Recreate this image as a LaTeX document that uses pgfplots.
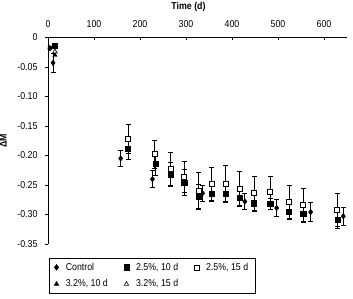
\documentclass[border=0pt]{standalone}
\usepackage{pgfplots}
\pgfplotsset{compat=1.18}
\usepackage{fontspec}
\setmainfont{Liberation Sans}[FakeStretch=0.88]
\begin{document}
\pgfplotstableread{
x y e
4 -0.018 0.003
11 -0.043 0.016
158 -0.205 0.013
227 -0.240 0.014
336 -0.264 0.014
428 -0.278 0.014
497 -0.289 0.015
571 -0.296 0.016
642 -0.303 0.015
}\control
\pgfplotstableread{
x y e
15 -0.014 0.004
174 -0.188 0.018
234 -0.214 0.020
267 -0.232 0.020
296 -0.246 0.022
327 -0.269 0.020
356 -0.265 0.013
386 -0.265 0.013
417 -0.272 0.015
448 -0.281 0.014
483 -0.282 0.010
524 -0.295 0.013
555 -0.299 0.014
629 -0.309 0.014
}\fullten
\pgfplotstableread{
x y e
174 -0.172 0.025
232 -0.198 0.024
267 -0.223 0.028
296 -0.236 0.026
327 -0.260 0.032
356 -0.248 0.028
386 -0.248 0.031
417 -0.256 0.029
448 -0.264 0.029
483 -0.261 0.026
524 -0.279 0.028
555 -0.284 0.028
629 -0.292 0.028
}\openfifteen
\pgfplotstableread{
x y
15 -0.030
174 -0.172
232 -0.198
267 -0.223
296 -0.236
327 -0.260
356 -0.248
386 -0.248
417 -0.256
448 -0.264
483 -0.261
524 -0.279
555 -0.284
629 -0.292
}\triten
\pgfplotstableread{
x y
15 -0.024
174 -0.172
232 -0.198
267 -0.223
296 -0.236
327 -0.260
356 -0.248
386 -0.248
417 -0.256
448 -0.264
483 -0.261
524 -0.279
555 -0.284
629 -0.292
}\trififteen
\begin{tikzpicture}
\path[use as bounding box] (-48pt,37.5pt) rectangle (305pt,-261.5pt);
\begin{axis}[
  at={(0,0)}, anchor=north west,
  scale only axis, width=299pt, height=206.5pt,
  xmin=0, xmax=650, ymin=-0.35, ymax=0,
  axis x line=top, axis y line=left,
  axis line style={-, line width=0.8pt},
  tick style={black, line width=0.8pt},
  tick align=outside,
  major tick length=3pt,
  major x tick style={yshift=-3pt},
  xtick={0,100,200,300,400,500,600},
  xticklabels={0,100,200,300,400,500,600},
  ytick={0,-0.05,-0.1,-0.15,-0.2,-0.25,-0.3,-0.35},
  yticklabels={0,-0.05,-0.10,-0.15,-0.20,-0.25,-0.30,-0.35},
  ticklabel style={font=\fontsize{10}{12}\selectfont},
  xticklabel style={yshift=3pt},
  yticklabel style={xshift=-4pt},
  xlabel={\textbf{Time (d)}},
  xlabel style={font=\fontsize{10}{12}\selectfont, at={(axis description cs:0.47,1)}, anchor=south, yshift=22pt},
  ylabel={\textbf{ΔM}},
  ylabel style={font=\fontsize{10}{12}\selectfont, yshift=4pt},
  legend columns=3,
  legend cell align=left,
  legend style={at={(axis description cs:0,0)}, anchor=north west, xshift=1pt, yshift=-13.7pt,
    draw=black, line width=0.6pt, font=\fontsize{10}{12}\selectfont,
    inner xsep=5pt, inner ysep=3pt, row sep=4pt,
    /tikz/every odd column/.append style={column sep=5pt},
    /tikz/every even column/.append style={column sep=14pt}},
  error bars/error bar style={line width=0.8pt, black},
  error bars/error mark options={rotate=90, mark size=2.5pt, line width=0.8pt, black},
]
\addplot[forget plot, only marks, mark=triangle*, mark size=2.6pt, black] table[x=x,y=y] {\triten};
\addplot[forget plot, only marks, mark=triangle*, mark size=2.6pt, black, mark options={fill=white, line width=0.6pt}] table[x=x,y=y] {\trififteen};
\addplot[only marks, mark=diamond*, mark size=2.8pt, black,
  error bars/.cd, y dir=both, y explicit] table[x=x,y=y,y error=e] {\control};
\addlegendentry{Control}
\addplot[only marks, mark=square*, mark size=2.6pt, black,
  error bars/.cd, y dir=both, y explicit] table[x=x,y=y,y error=e] {\fullten};
\addlegendentry{2.5\%, 10 d}
\addplot[only marks, mark=square*, mark size=2.5pt, black, mark options={fill=white, line width=0.7pt},
  error bars/.cd, y dir=both, y explicit] table[x=x,y=y,y error=e] {\openfifteen};
\addlegendentry{2.5\%, 15 d}
\addlegendimage{only marks, mark=triangle*, mark size=2.6pt, black}
\addlegendentry{3.2\%, 10 d}
\addlegendimage{only marks, mark=triangle*, mark size=2.6pt, black, mark options={fill=white, line width=0.6pt}}
\addlegendentry{3.2\%, 15 d}
\end{axis}
\end{tikzpicture}
\end{document}
